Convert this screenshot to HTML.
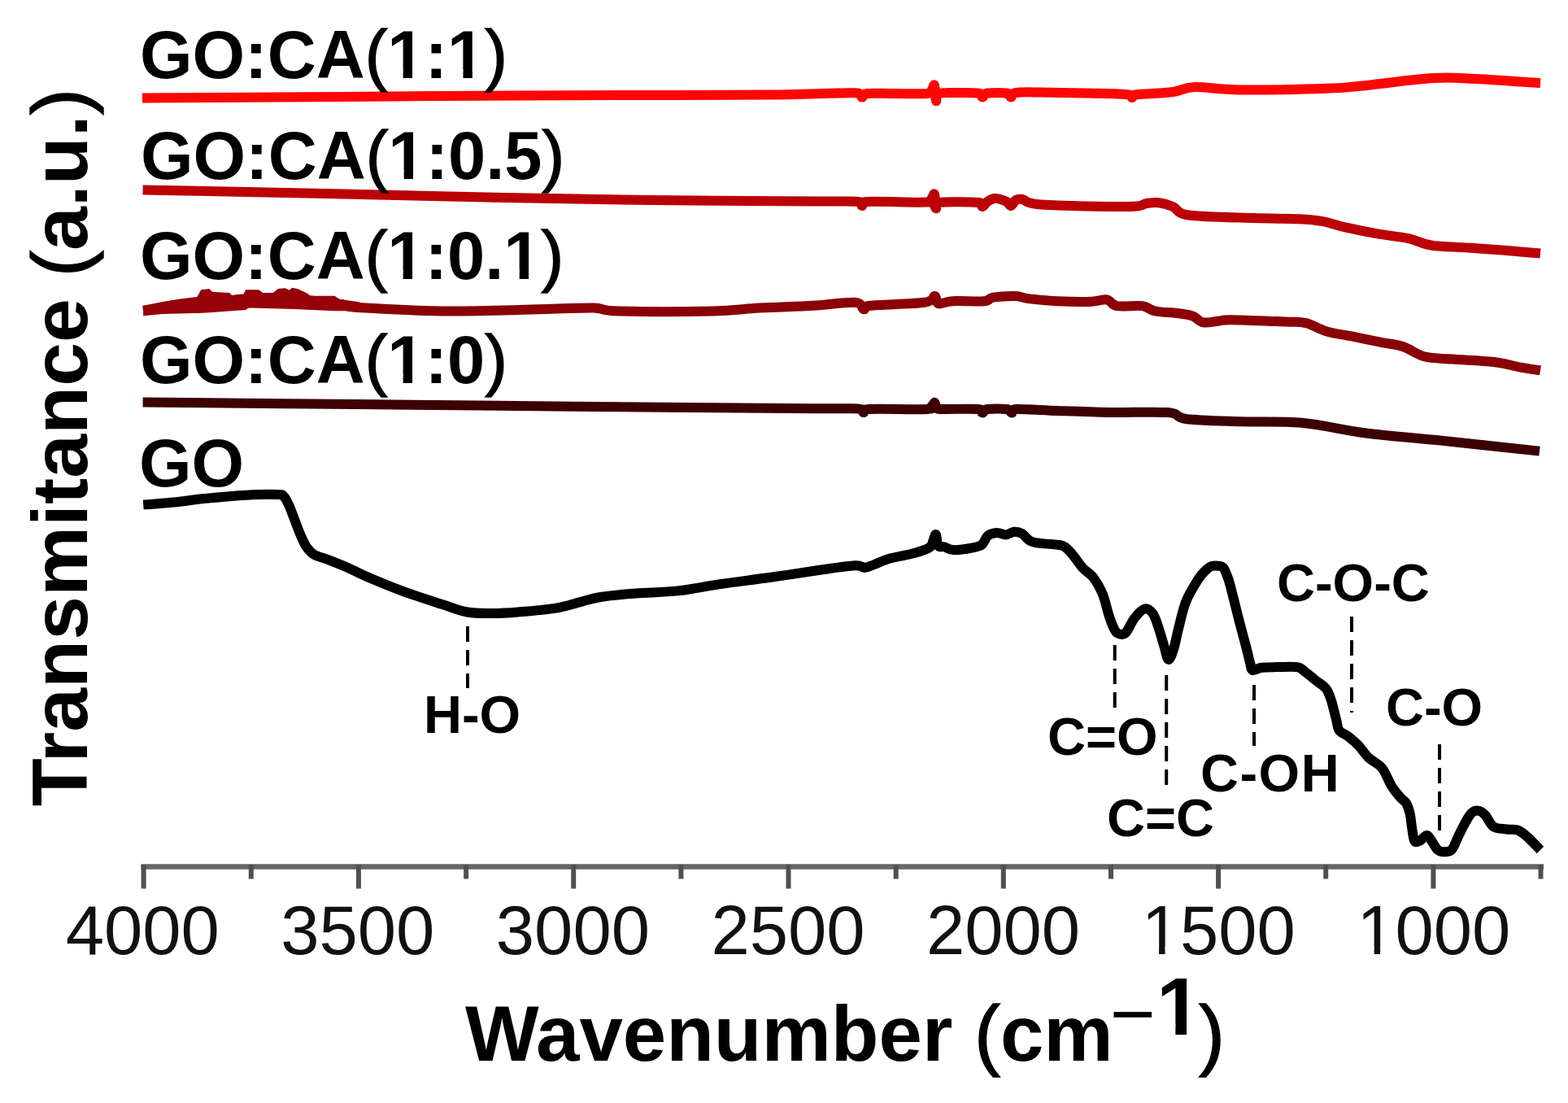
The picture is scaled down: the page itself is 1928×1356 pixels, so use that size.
<!DOCTYPE html>
<html><head><meta charset="utf-8"><title>FTIR</title>
<style>
html,body{margin:0;padding:0;background:#fff;}
body{width:1928px;height:1356px;overflow:hidden;}
svg{display:block;}
text{font-family:"Liberation Sans",Arial,sans-serif;}
</style></head><body>
<svg width="1928" height="1356" viewBox="0 0 1928 1356">
<rect width="1928" height="1356" fill="#fff"/>
<g fill="none" stroke-linejoin="round" stroke-linecap="butt" stroke-width="12">
<path d="M175.0 120.5 C195.8 120.4 259.2 120.0 300.0 119.8 C340.8 119.5 362.8 119.4 420.0 119.0 C477.2 118.6 579.7 117.7 643.0 117.4 C706.3 117.1 750.2 117.2 800.0 117.0 C849.8 116.8 903.7 116.9 942.0 116.5 C980.3 116.1 1011.2 114.8 1030.0 114.5 C1048.8 114.2 1050.0 113.7 1055.0 114.5 C1060.0 115.3 1058.2 119.4 1060.0 119.5 C1061.8 119.6 1059.3 115.8 1066.0 115.0 C1072.7 114.2 1087.7 115.0 1100.0 115.0 C1112.3 115.0 1132.3 115.8 1140.0 115.0 C1147.7 114.2 1144.5 111.7 1146.0 110.0 C1147.5 108.3 1148.2 102.7 1149.0 105.0 C1149.8 107.3 1150.2 122.3 1151.0 124.0 C1151.8 125.7 1150.0 116.7 1154.0 115.0 C1158.0 113.3 1166.8 114.1 1175.0 114.0 C1183.2 113.9 1197.5 113.6 1203.0 114.5 C1208.5 115.4 1206.2 119.5 1208.0 119.5 C1209.8 119.5 1209.0 115.3 1214.0 114.5 C1219.0 113.7 1233.2 113.7 1238.0 114.5 C1242.8 115.3 1241.2 119.6 1243.0 119.5 C1244.8 119.4 1242.8 115.0 1249.0 114.0 C1255.2 113.0 1261.3 113.3 1280.0 113.5 C1298.7 113.7 1343.0 114.5 1361.0 115.0 C1379.0 115.5 1382.8 115.7 1388.0 116.5 C1393.2 117.3 1390.7 120.0 1392.0 120.0 C1393.3 120.0 1387.7 117.7 1396.0 116.5 C1404.3 115.3 1429.8 114.6 1442.0 113.0 C1454.2 111.4 1455.2 107.4 1469.0 107.0 C1482.8 106.6 1498.2 110.2 1525.0 110.5 C1551.8 110.8 1605.8 109.5 1630.0 108.7 C1654.2 108.0 1648.0 108.1 1670.0 106.0 C1692.0 103.9 1737.8 97.5 1762.0 96.0 C1786.2 94.5 1793.0 96.0 1815.0 97.0 C1837.0 98.0 1880.8 101.3 1894.0 102.2" stroke="#ff0505"/>
<path d="M175.6 233.5 C213.0 234.2 325.9 236.4 400.0 238.0 C474.1 239.6 553.3 241.7 620.0 243.0 C686.7 244.3 736.7 245.2 800.0 246.0 C863.3 246.8 957.5 247.2 1000.0 247.5 C1042.5 247.8 1045.0 247.1 1055.0 248.0 C1065.0 248.9 1058.2 253.0 1060.0 253.0 C1061.8 253.0 1052.7 248.8 1066.0 248.0 C1079.3 247.2 1126.7 249.3 1140.0 248.5 C1153.3 247.7 1144.5 244.6 1146.0 243.0 C1147.5 241.4 1148.2 236.8 1149.0 239.0 C1149.8 241.2 1150.2 254.3 1151.0 256.0 C1151.8 257.7 1145.3 250.2 1154.0 249.0 C1162.7 247.8 1194.0 248.2 1203.0 249.0 C1212.0 249.8 1206.2 254.2 1208.0 254.0 C1209.8 253.8 1211.7 249.7 1214.0 248.0 C1216.3 246.3 1219.3 244.5 1222.0 244.0 C1224.7 243.5 1227.3 244.3 1230.0 245.0 C1232.7 245.7 1235.8 246.7 1238.0 248.0 C1240.2 249.3 1241.2 253.3 1243.0 253.0 C1244.8 252.7 1246.7 247.3 1249.0 246.0 C1251.3 244.7 1251.8 244.1 1257.0 245.0 C1262.2 245.9 1258.2 250.0 1280.0 251.5 C1301.8 253.0 1366.3 254.2 1388.0 254.0 C1409.7 253.8 1403.8 250.8 1410.0 250.0 C1416.2 249.2 1419.7 248.6 1425.0 249.3 C1430.3 250.0 1435.8 251.5 1442.0 254.0 C1448.2 256.5 1445.7 262.2 1462.0 264.5 C1478.3 266.8 1517.4 267.2 1540.0 268.0 C1562.6 268.8 1583.2 268.5 1597.6 269.2 C1612.0 269.9 1616.8 270.4 1626.4 272.1 C1636.0 273.9 1643.9 277.1 1655.1 279.7 C1666.3 282.2 1680.7 285.1 1693.5 287.4 C1706.3 289.6 1720.7 290.8 1731.9 293.2 C1743.1 295.6 1747.9 299.9 1760.7 301.8 C1773.5 303.7 1794.3 303.7 1808.7 304.7 C1823.1 305.7 1832.8 306.5 1847.0 307.6 C1861.2 308.7 1886.2 310.8 1894.0 311.4" stroke="#bb0006"/>
<path d="M176.0 382.0 C183.5 381.0 206.5 377.7 221.0 376.0 C235.5 374.3 249.2 373.5 263.0 372.0 C276.8 370.5 288.3 367.8 304.0 367.0 C319.7 366.2 337.8 365.8 357.0 367.0 C376.2 368.2 405.2 372.2 419.0 374.0 C432.8 375.8 417.2 376.6 440.0 378.0 C462.8 379.4 517.3 382.2 556.0 382.5 C594.7 382.8 643.0 380.7 672.0 380.0 C701.0 379.3 715.3 378.1 730.0 378.5 C744.7 378.9 735.7 381.8 760.0 382.5 C784.3 383.2 847.0 383.2 876.0 382.5 C905.0 381.8 913.3 379.6 934.0 378.5 C954.7 377.4 980.5 376.8 1000.0 375.7 C1019.5 374.6 1040.9 371.0 1051.3 371.8 C1061.7 372.6 1059.1 379.7 1062.2 380.3 C1065.3 380.9 1057.5 377.1 1070.0 375.7 C1082.5 374.3 1123.7 373.8 1136.9 371.8 C1150.1 369.9 1146.6 363.8 1149.4 364.0 C1152.2 364.2 1150.4 372.3 1154.0 373.3 C1157.6 374.3 1161.9 370.7 1171.2 370.2 C1180.5 369.7 1201.7 371.0 1210.0 370.2 C1218.3 369.4 1214.5 366.6 1221.0 365.6 C1227.5 364.6 1241.8 363.8 1249.0 364.0 C1256.2 364.2 1256.0 366.1 1264.5 367.1 C1273.0 368.1 1287.0 369.6 1300.0 370.2 C1313.0 370.8 1332.0 371.0 1342.2 370.7 C1352.4 370.4 1355.7 367.4 1360.9 368.3 C1366.1 369.2 1366.1 374.8 1373.4 376.1 C1380.7 377.4 1396.7 375.1 1404.5 376.1 C1412.3 377.1 1412.2 380.7 1420.0 382.3 C1427.8 383.9 1443.4 384.4 1451.2 385.5 C1459.0 386.6 1462.0 386.8 1466.7 388.6 C1471.4 390.4 1474.0 395.3 1479.2 396.3 C1484.4 397.3 1492.1 395.3 1497.8 394.8 C1503.5 394.3 1499.7 393.1 1513.4 393.2 C1527.1 393.3 1564.6 394.9 1580.0 395.5 C1595.4 396.1 1597.1 395.1 1605.7 397.1 C1614.3 399.1 1621.4 404.5 1631.4 407.4 C1641.4 410.2 1654.2 411.9 1665.6 414.2 C1677.0 416.5 1689.8 419.1 1699.8 421.1 C1709.8 423.1 1716.9 423.4 1725.5 426.2 C1734.1 429.0 1741.2 435.6 1751.2 438.2 C1761.2 440.8 1771.1 440.5 1785.4 441.6 C1799.7 442.7 1822.5 443.3 1836.8 445.0 C1851.1 446.7 1861.5 450.2 1871.0 451.9 C1880.5 453.6 1890.2 454.7 1894.0 455.3" stroke="#8a0006"/>
<path d="M176.2 375.8 L200.0 371.1 L221.2 367.4 L242.3 364.9 L247.3 356.2 L257.3 355.0 L261.0 358.7 L282.2 359.9 L287.1 364.9 L297.1 366.8 L302.1 356.2 L318.3 356.2 L323.2 359.9 L335.7 359.9 L341.9 355.0 L350.6 354.3 L355.6 356.8 L359.3 353.7 L365.6 355.0 L376.8 359.9 L381.8 363.7 L411.6 363.7 L417.8 368.0 L440.0 371.0 L455.0 376.0 L455.0 382.0 L440.0 382.3 L411.6 382.3 L361.8 379.9 L305.8 378.6 L302.1 381.1 L249.8 384.8 L200.0 386.1 L176.2 388.2 Z" fill="#960008" stroke="none"/>
<path d="M175.6 494.5 C219.7 494.9 347.6 496.1 440.0 497.0 C532.4 497.9 636.7 499.1 730.0 500.0 C823.3 500.9 945.8 501.8 1000.0 502.2 C1054.2 502.6 1044.7 501.7 1055.0 502.5 C1065.3 503.3 1059.8 506.9 1062.0 507.0 C1064.2 507.1 1055.0 503.7 1068.0 503.0 C1081.0 502.3 1127.0 503.7 1140.0 503.0 C1153.0 502.3 1144.4 500.3 1146.0 499.0 C1147.6 497.7 1148.4 494.5 1149.4 495.0 C1150.4 495.5 1150.2 500.7 1152.0 502.0 C1153.8 503.3 1151.5 502.8 1160.0 503.0 C1168.5 503.2 1195.0 502.2 1203.0 503.0 C1211.0 503.8 1206.2 507.5 1208.0 507.5 C1209.8 507.5 1209.0 503.8 1214.0 503.0 C1219.0 502.2 1233.0 502.2 1238.0 503.0 C1243.0 503.8 1242.0 507.5 1244.0 507.5 C1246.0 507.5 1240.7 503.4 1250.0 503.0 C1259.3 502.6 1281.1 504.3 1300.0 505.0 C1318.9 505.7 1340.6 506.6 1363.3 507.0 C1386.0 507.4 1420.2 505.8 1436.0 507.1 C1451.8 508.4 1444.0 513.1 1458.2 515.0 C1472.5 516.9 1497.8 517.4 1521.5 518.2 C1545.2 519.0 1574.2 517.4 1600.5 519.8 C1626.8 522.2 1650.6 528.8 1679.6 532.5 C1708.6 536.2 1738.9 538.2 1774.5 541.9 C1810.1 545.6 1873.2 552.5 1893.0 554.6" stroke="#3c0003"/>
<path d="M176.2 620.5 C182.9 620.0 204.8 618.4 216.7 617.2 C228.6 616.0 233.5 614.7 247.8 613.3 C262.1 611.9 286.7 609.6 302.3 608.7 C317.9 607.8 333.4 607.6 341.2 607.9 C349.0 608.1 346.6 608.0 348.9 610.2 C351.2 612.4 353.1 616.7 355.2 621.1 C357.3 625.5 359.1 630.7 361.4 636.7 C363.7 642.7 366.6 650.9 369.2 656.9 C371.8 662.9 374.0 668.4 376.9 672.5 C379.8 676.6 381.9 679.2 386.3 681.8 C390.7 684.4 396.7 685.4 403.4 688.0 C410.1 690.6 418.9 694.0 426.7 697.4 C434.5 700.8 438.3 703.5 450.0 708.5 C461.7 713.5 481.1 721.6 496.7 727.3 C512.3 733.0 530.4 738.7 543.4 742.9 C556.4 747.1 564.1 750.6 574.5 752.5 C584.9 754.4 595.2 754.0 605.6 754.0 C616.0 754.0 623.7 753.6 636.7 752.5 C649.7 751.4 670.4 749.7 683.4 747.6 C696.4 745.5 705.1 742.1 714.5 739.8 C723.9 737.5 728.8 735.4 740.0 733.7 C751.2 732.0 765.9 730.7 781.5 729.5 C797.1 728.3 816.1 728.3 833.4 726.4 C850.7 724.5 866.2 720.9 885.2 718.1 C904.2 715.3 926.8 712.7 947.5 709.8 C968.2 706.9 992.4 702.9 1009.7 700.5 C1027.0 698.1 1042.2 695.8 1051.2 695.3 C1060.2 694.8 1059.6 698.0 1063.6 697.8 C1067.6 697.6 1070.2 695.8 1075.0 694.0 C1079.8 692.2 1085.2 689.2 1092.7 687.0 C1100.2 684.8 1112.8 682.8 1120.0 681.0 C1127.2 679.2 1132.0 677.8 1136.2 676.1 C1140.4 674.5 1142.5 674.3 1144.9 671.1 C1147.3 667.9 1149.0 657.0 1150.5 657.0 C1152.0 657.0 1151.8 668.6 1153.6 671.1 C1155.4 673.6 1158.0 671.5 1161.1 672.3 C1164.2 673.1 1166.7 675.9 1172.3 676.1 C1177.9 676.3 1188.9 674.7 1194.7 673.6 C1200.5 672.5 1203.8 672.3 1207.1 669.8 C1210.4 667.3 1211.5 661.1 1214.6 658.6 C1217.7 656.1 1222.1 655.1 1225.8 654.9 C1229.5 654.7 1233.5 657.6 1237.0 657.4 C1240.5 657.2 1243.7 653.9 1247.0 653.7 C1250.3 653.5 1253.2 654.0 1256.9 656.1 C1260.6 658.2 1262.1 663.8 1269.4 666.1 C1276.7 668.4 1293.9 668.8 1300.5 669.8 C1307.1 670.8 1306.1 670.2 1309.2 672.3 C1312.3 674.4 1315.5 677.9 1319.2 682.3 C1322.9 686.7 1327.4 693.9 1331.6 698.5 C1335.8 703.1 1340.1 704.5 1344.1 709.7 C1348.1 714.9 1352.3 721.8 1355.6 729.8 C1358.9 737.8 1361.3 750.2 1363.9 757.8 C1366.5 765.4 1368.9 771.8 1371.1 775.4 C1373.3 779.0 1375.0 779.2 1377.3 779.6 C1379.5 780.0 1381.6 780.8 1384.6 777.5 C1387.5 774.2 1391.2 764.7 1395.0 759.9 C1398.8 755.1 1403.6 749.4 1407.4 748.5 C1411.2 747.6 1414.8 750.6 1417.8 754.7 C1420.8 758.9 1422.8 766.8 1425.1 773.4 C1427.3 780.0 1429.4 787.9 1431.3 794.1 C1433.2 800.3 1434.6 809.8 1436.5 810.7 C1438.4 811.6 1440.6 805.5 1442.7 799.3 C1444.8 793.1 1446.5 782.9 1448.9 773.4 C1451.3 763.9 1454.1 750.9 1457.2 742.2 C1460.3 733.6 1464.1 727.5 1467.6 721.5 C1471.1 715.5 1474.5 710.0 1478.0 705.9 C1481.5 701.8 1485.4 698.3 1488.3 696.6 C1491.2 694.9 1493.0 695.4 1495.6 695.6 C1498.2 695.8 1501.5 695.0 1503.9 697.6 C1506.3 700.2 1508.0 705.1 1510.1 711.1 C1512.2 717.1 1514.0 725.2 1516.3 733.9 C1518.5 742.5 1521.0 753.0 1523.6 763.0 C1526.2 773.0 1529.7 785.5 1531.9 794.1 C1534.2 802.8 1535.7 809.9 1537.1 814.9 C1538.5 819.9 1537.7 822.9 1540.1 823.9 C1542.5 824.9 1546.3 821.3 1551.3 820.7 C1556.3 820.1 1562.9 820.2 1570.2 820.1 C1577.5 820.0 1589.4 819.1 1595.2 820.1 C1601.0 821.1 1601.5 823.7 1605.3 826.4 C1609.1 829.1 1613.6 833.1 1617.8 836.4 C1622.0 839.7 1627.2 842.4 1630.3 846.4 C1633.4 850.4 1634.5 853.9 1636.6 860.2 C1638.7 866.5 1641.2 877.7 1642.9 884.0 C1644.6 890.3 1644.1 894.2 1646.6 897.8 C1649.1 901.4 1653.9 902.3 1657.9 905.4 C1661.9 908.5 1666.3 912.2 1670.5 916.6 C1674.7 921.0 1678.2 927.1 1683.0 931.7 C1687.8 936.3 1694.6 938.5 1699.3 944.2 C1704.0 949.9 1707.2 960.1 1710.9 966.1 C1714.7 972.1 1718.7 976.7 1721.8 980.3 C1724.9 983.9 1727.4 984.4 1729.4 987.9 C1731.4 991.4 1732.7 996.3 1733.8 1001.0 C1734.9 1005.7 1735.0 1010.8 1735.9 1016.2 C1736.8 1021.7 1737.6 1030.8 1739.2 1033.7 C1740.8 1036.6 1743.2 1034.8 1745.7 1033.7 C1748.2 1032.6 1752.0 1026.9 1754.5 1027.1 C1757.0 1027.3 1758.8 1031.9 1761.0 1034.8 C1763.2 1037.7 1765.1 1042.5 1767.5 1044.6 C1769.9 1046.7 1772.3 1047.3 1775.2 1047.3 C1778.1 1047.3 1782.1 1047.6 1785.0 1044.6 C1787.9 1041.6 1790.1 1034.4 1792.6 1029.3 C1795.1 1024.2 1797.5 1019.0 1800.2 1014.1 C1802.9 1009.2 1806.0 1002.8 1808.9 999.9 C1811.8 997.0 1814.7 996.2 1817.6 996.6 C1820.5 997.0 1823.2 998.8 1826.3 1002.1 C1829.4 1005.4 1831.8 1013.3 1836.2 1016.2 C1840.6 1019.1 1847.4 1018.8 1852.5 1019.5 C1857.6 1020.2 1862.1 1018.8 1866.6 1020.6 C1871.1 1022.4 1875.1 1026.3 1879.7 1030.4 C1884.3 1034.5 1891.6 1042.6 1894.0 1045.0" stroke="#000"/>
</g>
<g stroke="#000" stroke-width="4" stroke-dasharray="19 10">
<line x1="575" y1="770" x2="575" y2="846"/>
<line x1="1370.7" y1="793" x2="1370.7" y2="870"/>
<line x1="1434.2" y1="830" x2="1434.2" y2="966"/>
<line x1="1542" y1="842" x2="1542" y2="917"/>
<line x1="1662" y1="758" x2="1662" y2="876"/>
<line x1="1770" y1="915" x2="1770" y2="1022"/>
</g>
<g stroke="#666" stroke-width="6.5">
<line x1="173.5" y1="1065.5" x2="1898" y2="1065.5"/>
</g>
<g stroke="#505050" stroke-width="6"><line x1="176.6" y1="1063" x2="176.6" y2="1092.5"/><line x1="308.8" y1="1063" x2="308.8" y2="1080.5"/><line x1="440.9" y1="1063" x2="440.9" y2="1092.5"/><line x1="573.1" y1="1063" x2="573.1" y2="1080.5"/><line x1="705.2" y1="1063" x2="705.2" y2="1092.5"/><line x1="837.4" y1="1063" x2="837.4" y2="1080.5"/><line x1="969.5" y1="1063" x2="969.5" y2="1092.5"/><line x1="1101.7" y1="1063" x2="1101.7" y2="1080.5"/><line x1="1233.8" y1="1063" x2="1233.8" y2="1092.5"/><line x1="1366.0" y1="1063" x2="1366.0" y2="1080.5"/><line x1="1498.1" y1="1063" x2="1498.1" y2="1092.5"/><line x1="1630.2" y1="1063" x2="1630.2" y2="1080.5"/><line x1="1762.4" y1="1063" x2="1762.4" y2="1092.5"/><line x1="1894.5" y1="1063" x2="1894.5" y2="1080.5"/></g>
<g font-size="85" text-anchor="middle" fill="#111"><text x="175.2" y="1172.5">4000</text><text x="439.8" y="1172.5">3500</text><text x="704.4" y="1172.5">3000</text><text x="969.0" y="1172.5">2500</text><text x="1233.6" y="1172.5">2000</text><text x="1498.2" y="1172.5">1500</text><text x="1762.8" y="1172.5">1000</text></g>
<g font-size="83" font-weight="bold" fill="#000">
<text x="172" y="96.1">GO:CA<tspan font-weight="normal" stroke="#000" stroke-width="1.4">(</tspan>1:1<tspan font-weight="normal" stroke="#000" stroke-width="1.4">)</tspan></text>
<text x="173" y="219.9">GO:CA<tspan font-weight="normal" stroke="#000" stroke-width="1.4">(</tspan>1:0.5<tspan font-weight="normal" stroke="#000" stroke-width="1.4">)</tspan></text>
<text x="172" y="342.7">GO:CA<tspan font-weight="normal" stroke="#000" stroke-width="1.4">(</tspan>1:0.1<tspan font-weight="normal" stroke="#000" stroke-width="1.4">)</tspan></text>
<text x="172" y="471">GO:CA<tspan font-weight="normal" stroke="#000" stroke-width="1.4">(</tspan>1:0<tspan font-weight="normal" stroke="#000" stroke-width="1.4">)</tspan></text>
<text x="171" y="598.2">GO</text>
</g>
<g font-size="65" font-weight="bold" fill="#000">
<text x="521" y="901.3">H-O</text>
<text x="1288" y="928">C=O</text>
<text x="1361" y="1027.5">C=C</text>
<text x="1476" y="973" letter-spacing="1.5">C-OH</text>
<text x="1570" y="739">C-O-C</text>
<text x="1704" y="892">C-O</text>
</g>
<g font-size="96" font-weight="bold" fill="#000">
<text x="572" y="1303.5">Wavenumber <tspan font-weight="normal" stroke="#000" stroke-width="1.4">(</tspan>cm</text>
<text x="1364.5" y="1278.5" font-weight="normal">&#8722;</text>
<text x="1422" y="1272" font-size="100">1</text>
<text x="1474" y="1303.5" font-weight="normal" stroke="#000" stroke-width="1.4">)</text>
<text transform="translate(107.2 991.2) rotate(-90)" font-size="96.8">Transmitance <tspan font-weight="normal" stroke="#000" stroke-width="1.4">(</tspan>a.u.<tspan font-weight="normal" stroke="#000" stroke-width="1.4">)</tspan></text>
</g>
<g fill="#fff"><rect x="1409.13" y="1164.07" width="15.90" height="9.09"/><rect x="1432.54" y="1164.07" width="15.23" height="9.09"/><rect x="1673.73" y="1164.07" width="15.90" height="9.09"/><rect x="1697.14" y="1164.07" width="15.23" height="9.09"/><rect x="480.53" y="85.60" width="15.12" height="11.15"/><rect x="507.03" y="85.60" width="14.06" height="11.15"/><rect x="554.34" y="85.60" width="15.12" height="11.15"/><rect x="580.84" y="85.60" width="14.06" height="11.15"/><rect x="481.53" y="209.40" width="15.12" height="11.15"/><rect x="508.03" y="209.40" width="14.06" height="11.15"/><rect x="480.53" y="332.20" width="15.12" height="11.15"/><rect x="507.03" y="332.20" width="14.06" height="11.15"/><rect x="623.56" y="332.20" width="15.12" height="11.15"/><rect x="650.06" y="332.20" width="14.06" height="11.15"/><rect x="480.53" y="460.50" width="15.12" height="11.15"/><rect x="507.03" y="460.50" width="14.06" height="11.15"/><rect x="1427.13" y="1259.35" width="18.21" height="13.43"/><rect x="1459.06" y="1259.35" width="16.94" height="13.43"/></g>
</svg>
</body></html>
